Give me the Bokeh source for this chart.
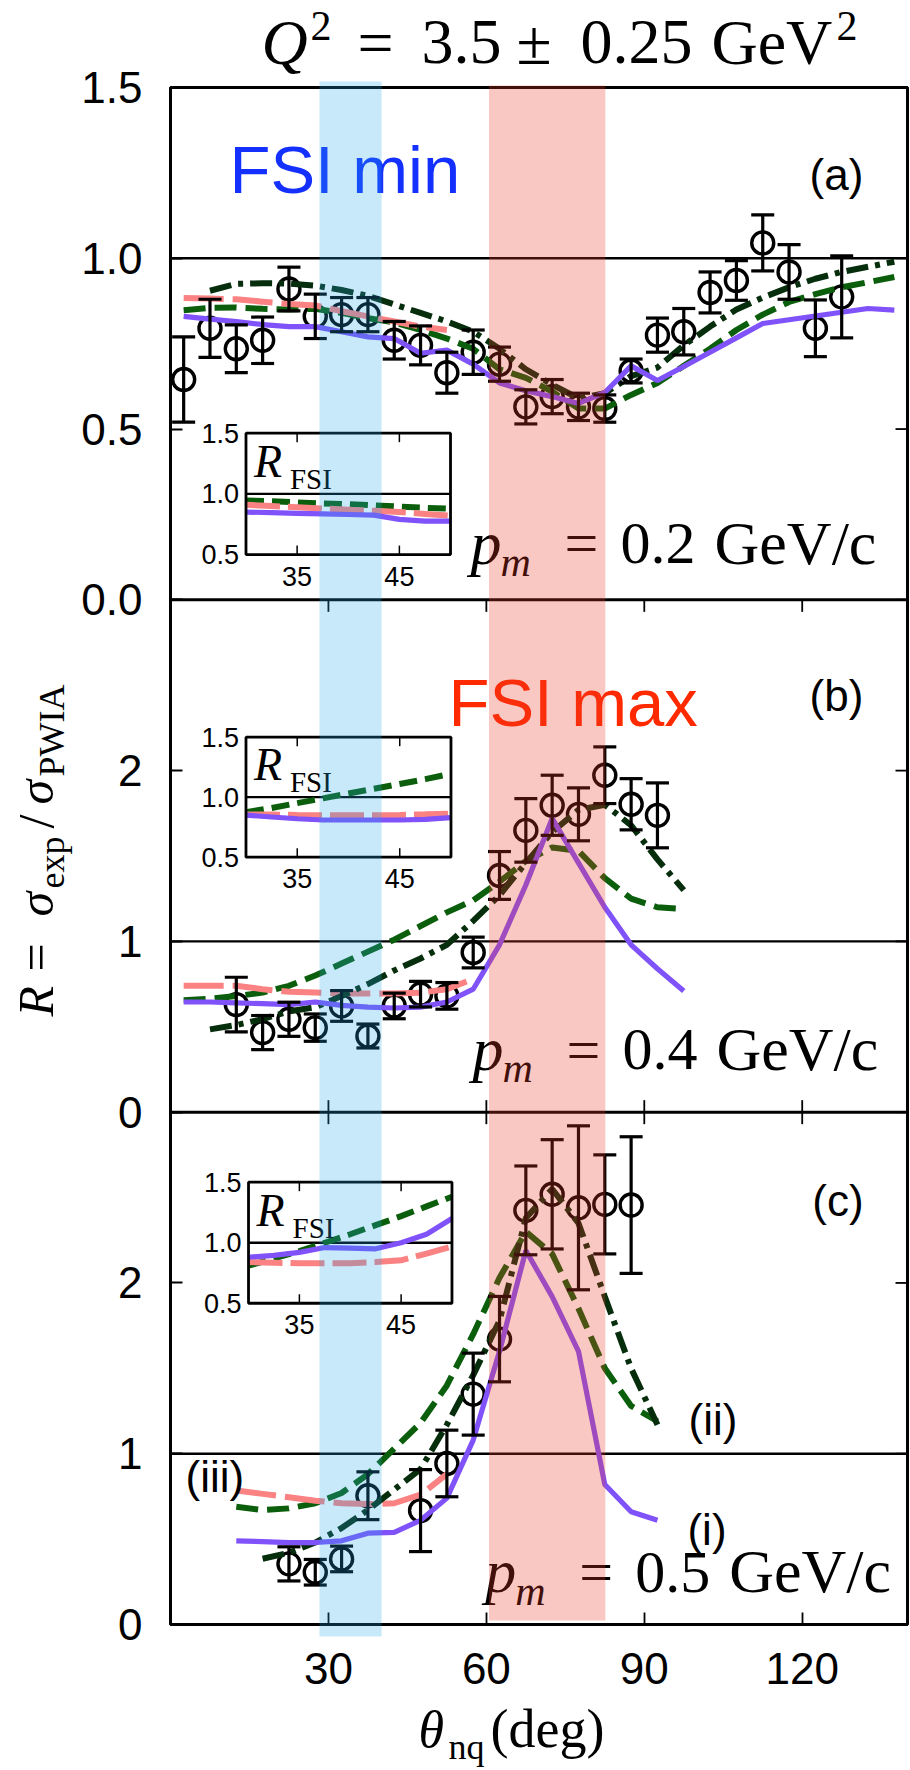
import math
from bokeh.plotting import figure
from bokeh.models import (Range1d, FixedTicker, BoxAnnotation, Label, Whisker, TeeHead,
                          ColumnDataSource)
from bokeh.embed import file_html
from bokeh.resources import INLINE

# ======================= DATA =======================
# ---- panel (a): p_m = 0.2 GeV/c ----
a_theta = [2.5, 7.5, 12.5, 17.5, 22.5, 27.5, 32.5, 37.5, 42.5, 47.5, 52.5, 57.5, 62.5,
           67.5, 72.5, 77.5, 82.5, 87.5, 92.5, 97.5, 102.5, 107.5, 112.5, 117.5, 122.5, 127.5]
a_R = [0.645, 0.795, 0.735, 0.760, 0.910, 0.830, 0.835, 0.835, 0.760, 0.745, 0.665, 0.725, 0.690,
       0.565, 0.595, 0.565, 0.560, 0.670, 0.775, 0.785, 0.900, 0.935, 1.045, 0.960, 0.795, 0.887]
a_err = [0.125, 0.085, 0.070, 0.068, 0.064, 0.065, 0.050, 0.050, 0.055, 0.057, 0.060, 0.065, 0.050,
         0.050, 0.050, 0.040, 0.040, 0.035, 0.050, 0.068, 0.060, 0.058, 0.082, 0.080, 0.083, 0.120]

a_th_i = [2.5, 7.5, 12.5, 17.5, 22.5, 27.5, 32.5, 37.5, 42.5, 47.5, 52.5, 57.5, 62.5, 67.5,
          72.5, 77.5, 82.5, 87.5, 92.5, 97.5, 102.5, 107.5, 112.5, 117.5, 122.5, 127.5, 132.5, 137.5]
a_i = [0.830, 0.822, 0.815, 0.806, 0.800, 0.800, 0.785, 0.770, 0.765, 0.722, 0.731, 0.690, 0.635, 0.612,
       0.595, 0.575, 0.607, 0.685, 0.642, 0.683, 0.725, 0.767, 0.809, 0.820, 0.831, 0.842, 0.853, 0.848]
a_th_ii = [7.5, 12.5, 17.5, 22.5, 27.5, 32.5, 37.5, 42.5, 47.5, 52.5, 57.5, 62.5, 67.5, 72.5,
           77.5, 82.5, 87.5, 92.5, 97.5, 102.5, 107.5, 112.5, 117.5, 122.5, 127.5, 132.5, 137.5]
a_ii = [0.905, 0.925, 0.927, 0.926, 0.920, 0.907, 0.890, 0.865, 0.840, 0.815, 0.785, 0.735, 0.675, 0.630,
        0.590, 0.605, 0.655, 0.680, 0.745, 0.800, 0.850, 0.885, 0.915, 0.940, 0.960, 0.975, 0.990]
a_th_iii = [2.5, 7.5, 12.5, 17.5, 22.5, 27.5, 32.5, 37.5, 42.5, 47.5, 52.5]
a_iii = [0.884, 0.882, 0.880, 0.873, 0.866, 0.862, 0.845, 0.830, 0.815, 0.800, 0.790]
a_th_iv = a_th_i
a_iv = [0.848, 0.855, 0.856, 0.852, 0.850, 0.852, 0.840, 0.825, 0.812, 0.790, 0.765, 0.735, 0.675, 0.650,
        0.610, 0.560, 0.560, 0.600, 0.635, 0.685, 0.735, 0.790, 0.835, 0.872, 0.895, 0.915, 0.930, 0.945]

# ---- panel (b): p_m = 0.4 GeV/c ----
b_theta = [12.5, 17.5, 22.5, 27.5, 32.5, 37.5, 42.5, 47.5, 52.5, 57.5, 62.5, 67.5, 72.5,
           77.5, 82.5, 87.5, 92.5]
b_R = [0.630, 0.466, 0.544, 0.495, 0.622, 0.446, 0.622, 0.691, 0.681, 0.935, 1.386, 1.650, 1.797,
       1.744, 1.973, 1.803, 1.738]
b_err = [0.160, 0.100, 0.100, 0.080, 0.090, 0.070, 0.075, 0.075, 0.078, 0.090, 0.140, 0.186, 0.176,
         0.155, 0.166, 0.150, 0.190]

b_th_i = [2.5, 7.5, 12.5, 17.5, 22.5, 27.5, 32.5, 37.5, 42.5, 47.5, 52.5, 57.5, 62.5, 67.5,
          72.5, 77.5, 82.5, 87.5, 92.5, 97.5]
b_i = [0.645, 0.645, 0.640, 0.635, 0.630, 0.645, 0.625, 0.615, 0.610, 0.615, 0.645, 0.720, 0.980, 1.330,
       1.720, 1.460, 1.200, 0.980, 0.840, 0.710]
b_th_ii = [7.5, 12.5, 17.5, 22.5, 27.5, 32.5, 37.5, 42.5, 47.5, 52.5, 57.5, 62.5, 67.5, 72.5,
           77.5, 82.5, 87.5, 92.5, 97.5]
b_ii = [0.485, 0.510, 0.545, 0.590, 0.615, 0.680, 0.750, 0.830, 0.900, 0.980, 1.120, 1.270, 1.460, 1.640,
        1.770, 1.800, 1.680, 1.480, 1.300]
b_th_iii = [2.5, 7.5, 12.5, 17.5, 22.5, 27.5, 32.5, 37.5, 42.5, 47.5, 52.5, 57.5]
b_iii = [0.740, 0.740, 0.740, 0.720, 0.705, 0.700, 0.695, 0.695, 0.695, 0.700, 0.720, 0.780]
b_th_iv = b_th_i
b_iv = [0.655, 0.665, 0.680, 0.700, 0.740, 0.800, 0.870, 0.940, 1.010, 1.090, 1.170, 1.240, 1.350, 1.470,
        1.550, 1.530, 1.370, 1.250, 1.200, 1.190]

# ---- panel (c): p_m = 0.5 GeV/c ----
c_theta = [22.5, 27.5, 32.5, 37.5, 47.5, 52.5, 57.5, 62.5, 67.5, 72.5, 77.5, 82.5, 87.5]
c_R = [0.355, 0.306, 0.384, 0.754, 0.667, 0.943, 1.349, 1.671, 2.425, 2.519, 2.440, 2.460, 2.456]
c_err = [0.100, 0.075, 0.075, 0.140, 0.240, 0.195, 0.240, 0.250, 0.260, 0.320, 0.480, 0.290, 0.400]

c_th_i = [12.5, 17.5, 22.5, 27.5, 32.5, 37.5, 42.5, 47.5, 52.5, 57.5, 62.5, 67.5, 72.5, 77.5,
          82.5, 87.5, 92.5]
c_i = [0.490, 0.485, 0.480, 0.480, 0.490, 0.535, 0.540, 0.610, 0.740, 1.080, 1.600, 2.190, 1.920, 1.600,
       0.820, 0.660, 0.610]
c_th_ii = [17.5, 22.5, 27.5, 32.5, 37.5, 42.5, 47.5, 52.5, 57.5, 62.5, 67.5, 72.5, 77.5, 82.5,
           87.5, 92.5]
c_ii = [0.385, 0.420, 0.480, 0.565, 0.670, 0.790, 0.910, 1.170, 1.460, 1.780, 2.380, 2.550, 2.350, 1.920,
        1.500, 1.170]
c_th_iii = [12.5, 17.5, 22.5, 27.5, 32.5, 37.5, 42.5, 47.5, 52.5]
c_iii = [0.785, 0.765, 0.745, 0.725, 0.710, 0.705, 0.710, 0.760, 0.880]
c_th_iv = c_th_i
c_iv = [0.690, 0.670, 0.680, 0.710, 0.770, 0.880, 1.030, 1.180, 1.400, 1.700, 2.030, 2.300, 2.170, 1.850,
        1.500, 1.280, 1.190]

# ---- insets: R_FSI ----
ins_theta = [30, 32.5, 35, 37.5, 40, 42.5, 45, 47.5, 50]
ins_a_i = [0.850, 0.845, 0.840, 0.835, 0.830, 0.825, 0.790, 0.775, 0.775]
ins_a_iii = [0.910, 0.900, 0.890, 0.880, 0.870, 0.860, 0.850, 0.835, 0.820]
ins_a_iv = [0.945, 0.940, 0.930, 0.920, 0.915, 0.905, 0.895, 0.885, 0.877]
ins_b_i = [0.850, 0.835, 0.820, 0.810, 0.810, 0.810, 0.810, 0.815, 0.830]
ins_b_iii = [0.856, 0.855, 0.852, 0.850, 0.850, 0.850, 0.852, 0.857, 0.863]
ins_b_iv = [0.875, 0.910, 0.950, 0.990, 1.030, 1.070, 1.110, 1.150, 1.195]
ins_c_i = [0.880, 0.895, 0.920, 0.960, 0.955, 0.950, 1.000, 1.070, 1.200]
ins_c_iii = [0.840, 0.835, 0.830, 0.830, 0.830, 0.840, 0.855, 0.910, 0.970]
ins_c_iv = [0.810, 0.870, 0.930, 1.000, 1.070, 1.145, 1.220, 1.300, 1.380]
ins_xlim = [30, 50]
ins_ylim = [0.5, 1.5]
ins_xticks = [35, 45]
ins_xticklabels = ["35", "45"]
ins_yticks = [0.5, 1.0, 1.5]
ins_yticklabels = ["0.5", "1.0", "1.5"]

# axes ticks
x_lim = [0, 140]
x_ticks = [30, 60, 90, 120]
a_yticks, a_ylabels = [0.0, 0.5, 1.0, 1.5], ["0.0", "0.5", "1.0", "1.5"]
b_yticks, b_ylabels = [0, 1, 2], ["0", "1", "2"]
c_yticks, c_ylabels = [0, 1, 2], ["0", "1", "2"]

# FSI bands (deg)
fsi_min_band = [28.3, 40.1]
fsi_max_band = [60.5, 82.6]

# ======================= LAYOUT / STYLE =======================
W, H = 910, 1770
FL, FR, FT, FB = 170, 907, 87, 1624          # pixel box of the stacked panels
N_G = 9.0                                      # global stacking coordinate: 3 panels x 3
PXX = (FR - FL) / (x_lim[1] - x_lim[0])
PXY = (FB - FT) / N_G
X_RANGE = (x_lim[0] - FL / PXX, x_lim[1] + (W - FR) / PXX)
G_RANGE = (-(H - FB) / PXY, N_G + FT / PXY)

C_I, C_II, C_III, C_IV = "#8052fa", "#062d0c", "#fa8282", "#0b5e0b"
SANS, SERIF = "Liberation Sans", "Liberation Serif"
BASE_SHIFT = 0.36   # Label 'alphabetic' anchor correction (fraction of font size)

p = figure(width=W, height=H, x_range=Range1d(*X_RANGE), y_range=Range1d(*G_RANGE),
           output_backend="svg", toolbar_location=None, min_border=0)
p.xgrid.visible = False
p.ygrid.visible = False
p.outline_line_color = None
p.background_fill_color = "white"
p.border_fill_color = "white"

panels = {
    "a": dict(slot=2, lo=0.0, hi=1.5, ticks=a_yticks, labels=a_ylabels),
    "b": dict(slot=1, lo=0.0, hi=3.0, ticks=b_yticks, labels=b_ylabels),
    "c": dict(slot=0, lo=0.0, hi=3.0, ticks=c_yticks, labels=c_ylabels),
}
g_ticks, g_labels = [], []
for k, d in panels.items():
    scale = (d["hi"] - d["lo"]) / 3.0
    p.extra_y_ranges[k] = Range1d(d["lo"] + (G_RANGE[0] - 3 * d["slot"]) * scale,
                                  d["lo"] + (G_RANGE[1] - 3 * d["slot"]) * scale)
    for t, l in zip(d["ticks"], d["labels"]):
        g_ticks.append(float(3 * d["slot"] + (t - d["lo"]) / scale))
        g_labels.append(l)

yax = p.yaxis[0]
yax.fixed_location = x_lim[0]
yax.ticker = FixedTicker(ticks=g_ticks)
yax.major_label_overrides = dict(zip(g_ticks, g_labels))
xax = p.xaxis[0]
xax.fixed_location = 0
xax.ticker = FixedTicker(ticks=x_ticks)
for ax, so in [(yax, 28), (xax, 28)]:
    ax.major_tick_in = 12
    ax.major_tick_out = 0
    ax.minor_tick_in = 0
    ax.minor_tick_out = 0
    ax.axis_line_color = None
    ax.major_tick_line_width = 1.8
    ax.major_tick_line_color = "black"
    ax.major_label_text_font = SANS
    ax.major_label_text_font_size = "44px"
    ax.major_label_text_color = "black"
    ax.major_label_standoff = so

# inward ticks on the right edge and on the inner panel borders
p.ray(x=[x_lim[1]] * len(g_ticks), y=g_ticks, length=12, length_units="screen", angle=math.pi,
      line_color="black", line_width=1.8)
for gy, ang in [(6, -math.pi / 2), (3, math.pi / 2), (3, -math.pi / 2)]:
    p.ray(x=x_ticks, y=[gy] * len(x_ticks), length=12, length_units="screen", angle=ang,
          line_color="black", line_width=1.8)

# horizontal R = 1 lines
for k in panels:
    p.segment(x0=[x_lim[0]], x1=[x_lim[1]], y0=[1.0], y1=[1.0], y_range_name=k,
              line_color="black", line_width=2.4)

data = {
    "a": (a_theta, a_R, a_err, [(a_th_iv, a_iv), (a_th_iii, a_iii), (a_th_ii, a_ii), (a_th_i, a_i)]),
    "b": (b_theta, b_R, b_err, [(b_th_iv, b_iv), (b_th_iii, b_iii), (b_th_ii, b_ii), (b_th_i, b_i)]),
    "c": (c_theta, c_R, c_err, [(c_th_iv, c_iv), (c_th_iii, c_iii), (c_th_ii, c_ii), (c_th_i, c_i)]),
}
line_styles = [
    dict(line_color=C_IV, line_width=6, line_dash="22 9"),
    dict(line_color=C_III, line_width=6, line_dash="40 9"),
    dict(line_color=C_II, line_width=6, line_dash="22 7 5 7"),
    dict(line_color=C_I, line_width=5.2),
]

for k, (th, R, err, curves) in data.items():
    src = ColumnDataSource(dict(x=th, y=R, lo=[r - e for r, e in zip(R, err)],
                                hi=[r + e for r, e in zip(R, err)]))
    p.add_layout(Whisker(source=src, base="x", upper="hi", lower="lo", y_range_name=k,
                         line_color="black", line_width=3.2, level="glyph",
                         upper_head=TeeHead(size=23, line_color="black", line_width=3.2),
                         lower_head=TeeHead(size=23, line_color="black", line_width=3.2)))
    p.scatter("x", "y", source=src, y_range_name=k, marker="circle", size=22,
              fill_color=None, line_color="black", line_width=3.4)
    for (cx, cy), st in zip(curves, line_styles):
        p.line(cx, cy, y_range_name=k, line_cap="butt", **st)

# ---------------- insets ----------------
# inset boxes in main coordinates: (theta_left, theta_right, G_bottom, G_top)
inset_box = {
    "a": (14.34, 53.19, 6.265, 6.976),
    "b": (14.34, 53.28, 4.493, 5.196),
    "c": (14.82, 53.47, 1.881, 2.590),
}
inset_curves = {
    "a": [ins_a_iv, ins_a_iii, ins_a_i],
    "b": [ins_b_iv, ins_b_iii, ins_b_i],
    "c": [ins_c_iv, ins_c_iii, ins_c_i],
}
inset_styles = [
    dict(line_color=C_IV, line_width=6, line_dash="18 8"),
    dict(line_color=C_III, line_width=6, line_dash="34 8"),
    dict(line_color=C_I, line_width=5.2),
]


def sub_range(lim, box_lo, box_hi, main):
    s = (lim[1] - lim[0]) / (box_hi - box_lo)
    return Range1d(lim[0] - (box_lo - main[0]) * s, lim[1] + (main[1] - box_hi) * s)


labels_to_add = []
for k, (bx0, bx1, by0, by1) in inset_box.items():
    xr, yr = "ix" + k, "iy" + k
    p.extra_x_ranges[xr] = sub_range(ins_xlim, bx0, bx1, X_RANGE)
    p.extra_y_ranges[yr] = sub_range(ins_ylim, by0, by1, G_RANGE)
    p.quad(left=[ins_xlim[0]], right=[ins_xlim[1]], bottom=[ins_ylim[0]], top=[ins_ylim[1]],
           x_range_name=xr, y_range_name=yr, fill_color="white", line_color=None)
    p.segment(x0=[ins_xlim[0]], x1=[ins_xlim[1]], y0=[1.0], y1=[1.0], x_range_name=xr,
              y_range_name=yr, line_color="black", line_width=2.4)
    for cy, st in zip(inset_curves[k], inset_styles):
        p.line(ins_theta, cy, x_range_name=xr, y_range_name=yr, line_cap="butt", **st)
    p.quad(left=[ins_xlim[0]], right=[ins_xlim[1]], bottom=[ins_ylim[0]], top=[ins_ylim[1]],
           x_range_name=xr, y_range_name=yr, fill_color=None, line_color="black", line_width=2.8)
    p.ray(x=ins_xticks, y=[ins_ylim[0]] * 2, length=9, length_units="screen", angle=math.pi / 2,
          x_range_name=xr, y_range_name=yr, line_color="black", line_width=1.5)
    p.ray(x=ins_xticks, y=[ins_ylim[1]] * 2, length=9, length_units="screen", angle=-math.pi / 2,
          x_range_name=xr, y_range_name=yr, line_color="black", line_width=1.5)
    for t, l in zip(ins_xticks, ins_xticklabels):
        labels_to_add.append(dict(text=l, x=t, y=ins_ylim[0], xr=xr, yr=yr, size=27, align="center",
                                  baseline="top", dy=-12))
    for t, l in zip(ins_yticks, ins_yticklabels):
        labels_to_add.append(dict(text=l, x=ins_xlim[0], y=t, xr=xr, yr=yr, size=27, align="right",
                                  baseline="middle", dx=-7))
    labels_to_add.append(dict(text="R", x=ins_xlim[0], y=1.13, xr=xr, yr=yr, size=46, font=SERIF,
                              style="italic", dx=8))
    labels_to_add.append(dict(text="FSI", x=ins_xlim[0], y=1.13, xr=xr, yr=yr, size=29, font=SERIF,
                              dx=44, dy=-11))

# ---------------- text annotations ----------------
labels_to_add += [
    dict(text="FSI min", x=11.2, y=1.19, yr="a", size=67, color="#1430ff"),
    dict(text="FSI max", x=52.8, y=2.255, yr="b", size=67, color="#ff2a00"),
    dict(text="(a)", x=126.5, y=1.199, yr="a", size=44, align="center"),
    dict(text="(b)", x=126.5, y=2.345, yr="b", size=44, align="center"),
    dict(text="(c)", x=126.8, y=2.39, yr="c", size=44, align="center"),
    dict(text="(ii)", x=98.4, y=1.105, yr="c", size=44),
    dict(text="(i)", x=98.2, y=0.462, yr="c", size=44),
    dict(text="(iii)", x=2.85, y=0.774, yr="c", size=44),
]

# p_m labels: (panel, x, baseline y, value)
pm_pos = [("a", 57.0, 0.102, "0.2"), ("b", 57.35, 0.24, "0.4"), ("c", 59.8, 0.18, "0.5")]
for k, x, y, v in pm_pos:
    labels_to_add += [
        dict(text="p", x=x, y=y, yr=k, size=62, font=SERIF, style="italic"),
        dict(text="m", x=x, y=y, yr=k, size=42, font=SERIF, style="italic", dx=30, dy=-12),
        dict(text="=", x=x, y=y, yr=k, size=60, font=SERIF, dx=94),
        dict(text=v, x=x, y=y, yr=k, size=60, font=SERIF, dx=150),
        dict(text="GeV/c", x=x, y=y, yr=k, size=62, font=SERIF, dx=244),
    ]

# title: Q^2 = 3.5 +- 0.25 GeV^2
tx, ty = 17.28, 9.129
labels_to_add += [
    dict(text="Q", x=tx, y=ty, size=64, font=SERIF, style="italic"),
    dict(text="2", x=tx, y=ty, size=42, font=SERIF, dx=49, dy=24),
    dict(text="=", x=tx, y=ty, size=64, font=SERIF, dx=96),
    dict(text="3.5", x=tx, y=ty, size=64, font=SERIF, dx=160),
    dict(text="±", x=tx, y=ty, size=64, font=SERIF, dx=255),
    dict(text="0.25", x=tx, y=ty, size=64, font=SERIF, dx=319),
    dict(text="GeV", x=tx, y=ty, size=64, font=SERIF, dx=450),
    dict(text="2", x=tx, y=ty, size=42, font=SERIF, dx=575, dy=24),
]

# y label: R = sigma_exp / sigma_PWIA (rotated)
yx, yy = -22.2, 3.56
rot = math.pi / 2
labels_to_add += [
    dict(text="R", x=yx, y=yy, size=50, font=SERIF, style="italic", angle=rot),
    dict(text="=", x=yx, y=yy, size=50, font=SERIF, angle=rot, dy=45),
    dict(text="σ", x=yx, y=yy, size=50, font=SERIF, style="italic", angle=rot, dy=100),
    dict(text="exp", x=yx, y=yy, size=36, font=SERIF, angle=rot, dy=128, dx=11),
    dict(text="/", x=yx, y=yy, size=50, font=SERIF, angle=rot, dy=188),
    dict(text="σ", x=yx, y=yy, size=50, font=SERIF, style="italic", angle=rot, dy=212),
    dict(text="PWIA", x=yx, y=yy, size=36, font=SERIF, angle=rot, dy=240, dx=11),
]

# x label: theta_nq (deg)
xx, xy = 47.1, -0.726
labels_to_add += [
    dict(text="θ", x=xx, y=xy, size=52, font=SERIF, style="italic"),
    dict(text="nq", x=xx, y=xy, size=36, font=SERIF, dx=30, dy=-11),
    dict(text="(deg)", x=xx, y=xy, size=54, font=SERIF, dx=72),
]

for d in labels_to_add:
    size = d.get("size", 44)
    dx, dy, ang = d.get("dx", 0), d.get("dy", 0), d.get("angle", 0)
    if d.get("baseline", "alphabetic") == "alphabetic":
        if ang == 0:
            dy += BASE_SHIFT * size
        else:
            dx -= BASE_SHIFT * size
    p.add_layout(Label(
        x=d["x"], y=d["y"], text=d["text"],
        x_range_name=d.get("xr", "default"), y_range_name=d.get("yr", "default"),
        text_font=d.get("font", SANS), text_font_size="%dpx" % size,
        text_font_style=d.get("style", "normal"), text_color=d.get("color", "black"),
        text_align=d.get("align", "left"), text_baseline=d.get("baseline", "alphabetic"),
        x_offset=dx, y_offset=dy, angle=ang))

# panel frames and separators
p.quad(left=[x_lim[0]], right=[x_lim[1]], bottom=[0], top=[N_G], fill_color=None,
       line_color="black", line_width=3)
p.segment(x0=[x_lim[0]] * 2, x1=[x_lim[1]] * 2, y0=[3, 6], y1=[3, 6], line_color="black", line_width=3)

# FSI bands drawn on top (semi-transparent); vertical extents in G
p.add_layout(BoxAnnotation(left=fsi_min_band[0], right=fsi_min_band[1], bottom=-0.07, top=9.035,
                           fill_color="#23a7eb", fill_alpha=0.25, line_color=None))
p.add_layout(BoxAnnotation(left=fsi_max_band[0], right=fsi_max_band[1], bottom=0.023, top=9.012,
                           fill_color="#ec3a28", fill_alpha=0.28, line_color=None))

open("out.html", "w").write(file_html(p, INLINE))
